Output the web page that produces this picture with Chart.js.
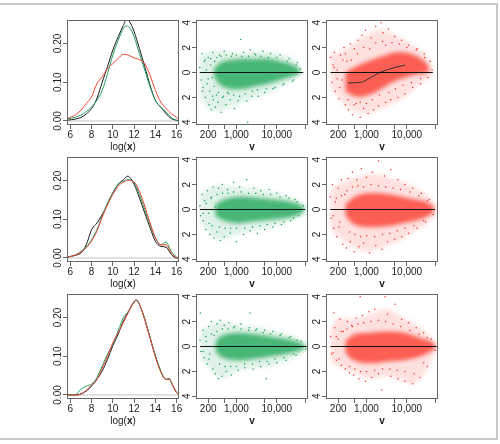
<!DOCTYPE html>
<html>
<head>
<meta charset="utf-8">
<script src="https://cdn.jsdelivr.net/npm/chart.js@4.4.1/dist/chart.umd.min.js"></script>
<style>
  html, body { margin: 0; padding: 0; background: #fff; }
  body { width: 500px; height: 444px; position: relative; overflow: hidden; }
  #frame { position: absolute; left: -6px; top: 3px; width: 504px; height: 437px;
           border: 2px solid #c8c8c8; box-sizing: border-box; }
  canvas { position: absolute; }
  canvas.soft { filter: blur(2px); }
</style>
</head>
<body>
<div id="frame"></div>
<script>
// --- tick values / labels ---
const densTicksX = [6, 8, 10, 12, 14, 16];
const densLabelsX = ["6", "8", "10", "12", "14", "16"];
const densTicksY = [0, 0.1, 0.2];
const densLabelsY = ["0.00", "0.10", "0.20"];
const vTicks = [200, 500, 1000, 5000, 10000, 50000];
const vLabels = ["200", "", "1,000", "", "10,000", ""];
const mTicksY = [-4, -2, 0, 2, 4];
const mLabelsY = ["4", "2", "0", "2", "4"];

// --- density curves, log(x) ---
const dens1X = [5.7, 6.5, 7, 7.5, 8, 8.5, 9, 9.5, 10, 10.5, 11, 11.3, 11.6, 12, 12.5, 13, 13.5, 14, 14.5, 15, 15.5, 16, 16.2];
const dens1Black = [0.002, 0.005, 0.009, 0.018, 0.032, 0.058, 0.1, 0.14, 0.183, 0.217, 0.247, 0.263, 0.255, 0.23, 0.187, 0.14, 0.092, 0.053, 0.036, 0.019, 0.006, 0.002, 0.001];
const dens1Green = [0.005, 0.01, 0.015, 0.024, 0.036, 0.053, 0.079, 0.122, 0.17, 0.208, 0.239, 0.245, 0.24, 0.217, 0.174, 0.131, 0.088, 0.053, 0.036, 0.023, 0.009, 0.001, 0];
const dens1Red = [0.006, 0.016, 0.028, 0.045, 0.062, 0.096, 0.114, 0.135, 0.148, 0.161, 0.172, 0.171, 0.168, 0.163, 0.158, 0.148, 0.118, 0.079, 0.049, 0.032, 0.019, 0.009, 0.005];

const dens2X = [5.7, 6.5, 7, 7.5, 8, 8.5, 9, 9.5, 10, 10.5, 11, 11.4, 12, 12.5, 13, 13.5, 14, 14.5, 15, 15.5, 16, 16.2];
const dens2Black = [0.002, 0.007, 0.013, 0.034, 0.073, 0.09, 0.112, 0.138, 0.168, 0.19, 0.202, 0.211, 0.19, 0.155, 0.116, 0.078, 0.043, 0.03, 0.028, 0.009, 0.0, 0.0];
const dens2Green = [0.002, 0.008, 0.017, 0.028, 0.047, 0.073, 0.108, 0.142, 0.168, 0.19, 0.198, 0.202, 0.194, 0.164, 0.125, 0.086, 0.052, 0.034, 0.041, 0.017, 0.002, 0];
const dens2Red = [0.002, 0.008, 0.015, 0.026, 0.043, 0.069, 0.105, 0.138, 0.164, 0.185, 0.196, 0.2, 0.196, 0.172, 0.134, 0.09, 0.053, 0.034, 0.034, 0.013, 0.001, 0];

const dens3X = [5.7, 6.5, 7, 7.5, 8, 8.5, 9, 9.5, 10, 10.5, 11, 11.5, 12, 12.2, 12.5, 13, 13.5, 14, 14.5, 15, 15.3, 15.5, 16, 16.2];
const dens3Black = [0, 0, 0.003, 0.01, 0.023, 0.04, 0.062, 0.092, 0.127, 0.157, 0.191, 0.217, 0.241, 0.245, 0.234, 0.196, 0.148, 0.101, 0.062, 0.04, 0.042, 0.032, 0.006, 0.002];
const dens3Green = [0, 0.001, 0.015, 0.023, 0.028, 0.045, 0.075, 0.105, 0.131, 0.165, 0.2, 0.217, 0.239, 0.244, 0.233, 0.196, 0.148, 0.101, 0.062, 0.04, 0.042, 0.032, 0.006, 0.002];
const dens3Red = [0, 0, 0.002, 0.012, 0.026, 0.04, 0.069, 0.1, 0.135, 0.161, 0.187, 0.215, 0.24, 0.243, 0.234, 0.193, 0.146, 0.098, 0.06, 0.04, 0.041, 0.032, 0.005, 0.001];

// --- scatter clouds: sparse envelope, dense core, loose points (v, y) ---
const gTopBandV = [124, 200, 320, 500, 1000, 2000, 4000, 8000, 15000, 25000, 38000];
const gTopOuterHi = [1.4, 1.6, 1.7, 1.7, 1.6, 1.6, 1.7, 1.6, 1.4, 1.1, 0.4];
const gTopOuterLo = [-1.8, -2.9, -3.1, -3.0, -2.6, -2.2, -1.8, -1.5, -1.0, -0.6, -0.2];
const gTopCoreV = [280, 400, 700, 1500, 3000, 6000, 12000, 25000, 38000];
const gTopCoreHi = [0.3, 0.8, 1.0, 1.1, 1.1, 1.1, 0.9, 0.6, 0.2];
const gTopCoreLo = [-0.3, -1.0, -1.3, -1.3, -1.1, -0.9, -0.6, -0.3, -0.1];
const gTopPts = [[124,0.4],[135,-0.6],[140,1.5],[150,-1.2],[160,0.9],[170,-2.0],[180,0.2],[190,-0.9],[200,1.2],[210,-2.6],[220,-1.5],[230,0.6],[240,-3.0],[250,-0.4],[260,1.6],[270,-2.2],[280,-1.1],[290,0.9],[300,-2.8],[320,-1.8],[350,-2.4],[380,1.4],[420,-3.2],[450,-2.0],[500,1.7],[550,-2.6],[600,-1.6],[700,-2.2],[800,1.5],[900,-2.9],[1270,2.65],[1200,-1.9],[1500,1.6],[1900,-4.0],[1800,-2.3],[2200,1.8],[2500,-1.5],[3000,1.4],[3500,-1.9],[4500,1.7],[5500,-1.3],[7000,1.5],[9000,-1.2],[12000,1.4],[15000,-0.9],[20000,1.1],[26000,-0.6],[32000,0.8],[38000,0.3],
  [330,1.2],[360,-1.6],[420,1.3],[480,-1.9],[560,1.4],[650,-1.7],[750,1.3],[850,-1.8],[1000,1.4],[1100,-2.3],[1350,1.3],[1650,-1.7],[2000,1.3],[2400,-1.9],[2800,1.5],[3300,-1.4],[4000,1.3],[5000,-1.6],[6200,1.2],[8000,-1.3],[10000,1.2],[14000,-1.0],[18000,0.9],[24000,-0.7],[30000,0.6],[260,-1.9],[230,1.1],[200,-0.5],[170,1.0],[145,-1.5]];
const gTopZero = [124, 45000];

const rTopBandV = [128, 200, 350, 600, 1000, 2000, 4000, 7000, 12000, 20000, 30000, 42000];
const rTopOuterHi = [1.5, 1.6, 2.0, 2.6, 3.0, 3.4, 3.2, 2.8, 2.3, 1.9, 1.4, 0.7];
const rTopOuterLo = [-1.2, -2.0, -2.8, -3.2, -3.3, -3.0, -2.6, -2.2, -1.6, -1.0, -0.6, -0.3];
const rTopCoreV = [300, 500, 900, 1600, 3000, 5000, 9000, 15000, 25000, 35000];
const rTopCoreHi = [0.0, 0.4, 0.8, 1.1, 1.4, 1.6, 1.6, 1.4, 1.0, 0.5];
const rTopCoreLo = [-1.5, -1.9, -1.9, -1.6, -1.1, -0.7, -0.4, -0.2, -0.1, 0.0];
const rTopPts = [[130,1.2],[140,-0.8],[150,0.6],[160,1.6],[170,-1.5],[190,0.2],[210,-2.1],[230,1.4],[250,-0.6],[280,2.0],[300,-2.6],[330,0.9],[360,-3.0],[400,2.3],[450,-3.4],[500,1.9],[560,-2.5],[620,2.6],[700,-3.6],[780,3.0],[850,-2.9],[950,3.4],[1100,-3.3],[1300,2.8],[1500,-3.0],[1700,3.7],[2000,-2.7],[2300,4.0],[2600,3.2],[3000,-2.4],[3500,3.5],[4000,-2.2],[5000,2.9],[6000,-2.0],[7500,2.6],[9000,-1.7],[11000,2.2],[14000,-1.2],[18000,1.9],[22000,-0.9],[27000,1.5],[33000,-0.4],[38000,0.9],[42000,0.2],
  [350,-2.2],[420,1.0],[500,-2.6],[600,1.5],[700,-2.4],[850,2.0],[1000,-2.5],[1200,1.9],[1400,-2.2],[1700,2.4],[2100,-1.8],[2500,2.5],[3000,2.2],[3600,-1.6],[4300,2.4],[5200,-1.3],[6500,2.3],[8000,-1.0],[10000,2.0],[13000,-0.8],[17000,1.8],[22000,-0.5],[28000,1.2],[260,1.0],[220,-1.2],[190,-0.5],[300,1.5],[160,0.4]];
const rTopZero = [129, 44000];
const rTopLoessV = [350, 700, 1240, 2000, 3900, 6800, 9000];
const rTopLoessY = [-0.84, -0.8, -0.43, -0.05, 0.3, 0.5, 0.6];

const gMidBandV = [125, 200, 320, 500, 1000, 2000, 4000, 8000, 15000, 30000, 50000];
const gMidOuterHi = [1.2, 1.6, 1.9, 1.9, 1.8, 1.7, 1.6, 1.4, 1.2, 0.8, 0.3];
const gMidOuterLo = [-1.0, -1.8, -2.4, -2.4, -2.0, -1.8, -1.6, -1.4, -1.1, -0.7, -0.3];
const gMidCoreV = [300, 500, 1000, 2000, 4000, 8000, 16000, 30000, 48000];
const gMidCoreHi = [0.4, 0.8, 1.0, 1.0, 0.9, 0.8, 0.7, 0.5, 0.2];
const gMidCoreLo = [-0.5, -0.9, -1.1, -1.0, -0.9, -0.8, -0.7, -0.5, -0.2];
const gMidPts = [[125,0.3],[130,-0.5],[140,1.2],[150,-0.9],[165,0.7],[175,-1.6],[190,1.5],[205,-0.3],[220,-2.0],[235,0.9],[250,-1.3],[265,1.8],[280,-2.3],[300,0.2],[330,-1.8],[360,1.7],[400,-2.5],[450,2.0],[500,-2.2],[600,1.6],[700,-1.9],[850,2.2],[1000,-2.6],[1200,1.8],[1500,-2.0],[1800,2.4],[2200,-1.7],[2700,1.7],[3300,-1.9],[4000,1.5],[5000,-1.6],[6500,1.6],[8000,-1.4],[10000,1.3],[13000,-1.2],[17000,1.1],[22000,-0.9],[28000,0.8],[35000,-0.5],[45000,0.3],
  [330,1.2],[380,-1.4],[450,1.3],[520,-1.5],[620,1.3],[720,-1.5],[850,1.4],[1000,-1.5],[1300,1.4],[1600,-1.5],[2000,1.3],[2500,-1.4],[3000,1.3],[3800,-1.3],[4600,1.2],[5800,-1.2],[7000,1.2],[9000,-1.1],[12000,1.0],[15000,-1.0],[20000,0.9],[26000,-0.7],[32000,0.6],[240,1.0],[210,-1.1],[180,0.5],[150,-0.3]];
const gMidZero = [125, 50000];

const rMidBandV = [128, 200, 350, 600, 1000, 2000, 4000, 8000, 15000, 30000, 50000];
const rMidOuterHi = [1.6, 2.0, 2.4, 2.6, 2.8, 2.8, 2.5, 2.2, 1.8, 1.2, 0.5];
const rMidOuterLo = [-1.4, -2.2, -2.8, -3.2, -3.4, -3.2, -2.8, -2.4, -1.8, -1.2, -0.5];
const rMidCoreV = [300, 500, 1000, 2000, 4000, 8000, 16000, 30000, 48000];
const rMidCoreHi = [0.4, 1.0, 1.3, 1.3, 1.2, 1.0, 0.8, 0.6, 0.2];
const rMidCoreLo = [-0.5, -1.2, -1.4, -1.4, -1.3, -1.1, -0.9, -0.6, -0.2];
const rMidPts = [[128,1.0],[135,-0.7],[145,2.0],[155,-1.5],[170,0.6],[185,-2.2],[200,1.7],[220,-1.0],[240,2.4],[260,-2.8],[290,1.2],[320,-3.1],[350,2.5],[400,-2.6],[450,3.0],[500,-3.4],[580,2.4],[650,-3.0],[750,3.3],[850,-2.7],[1000,2.6],[1200,-3.5],[1400,3.0],[1700,-2.9],[2000,3.9],[2400,-3.2],[2800,2.7],[3300,-2.6],[4000,3.2],[5000,-2.4],[6000,2.4],[7500,-2.2],[9000,2.0],[11000,-1.9],[14000,1.7],[18000,-1.5],[23000,1.3],[29000,-1.0],[36000,0.8],[45000,-0.4],
  [330,1.5],[380,-1.8],[450,1.8],[520,-2.0],[620,1.9],[720,-2.2],[850,1.8],[1000,-2.1],[1300,2.0],[1600,-2.2],[2000,1.9],[2500,-2.0],[3000,1.8],[3800,-1.9],[4600,1.7],[5800,-1.7],[7000,1.6],[9000,-1.5],[12000,1.4],[15000,-1.3],[20000,1.1],[26000,-0.9],[32000,0.7],[240,1.1],[210,-1.4],[180,0.9],[150,-0.5]];
const rMidZero = [128, 50000];

const gBotBandV = [130, 200, 320, 500, 1000, 2000, 4000, 8000, 16000, 30000, 52000];
const gBotOuterHi = [1.3, 1.6, 2.0, 1.9, 1.75, 1.6, 1.5, 1.3, 1.0, 0.7, 0.3];
const gBotOuterLo = [-1.0, -1.6, -2.3, -2.5, -2.0, -1.8, -1.7, -1.5, -1.2, -0.8, -0.3];
const gBotCoreV = [300, 400, 1000, 2600, 6700, 17000, 35000, 52000];
const gBotCoreHi = [0.3, 0.8, 1.1, 1.0, 0.8, 0.6, 0.35, 0.1];
const gBotCoreLo = [-0.3, -0.8, -1.1, -1.0, -0.8, -0.6, -0.35, -0.1];
const gBotPts = [[126,0.5],[132,-0.4],[128,2.7],[150,1.3],[160,-0.9],[175,0.8],[190,-1.4],[205,1.6],[220,-0.6],[240,2.0],[260,-1.8],[280,0.9],[300,-2.2],[330,1.8],[360,-2.6],[400,2.1],[440,-2.4],[500,1.7],[560,-2.0],[650,1.9],[750,-2.3],[900,1.6],[1100,-1.9],[1300,1.8],[2170,2.7],[1600,-1.7],[2100,1.5],[2600,-1.8],[3200,1.4],[4000,-1.6],[5500,-2.6],[5000,1.3],[6500,-1.4],[8000,1.2],[10000,-1.3],[13000,1.0],[17000,-1.1],[22000,0.8],[30000,-0.7],[40000,0.4],[52000,-0.2],
  [330,1.2],[380,-1.4],[450,1.4],[520,-1.6],[620,1.4],[720,-1.6],[850,1.5],[1000,-1.6],[1300,1.4],[1600,-1.4],[2000,1.3],[2500,-1.4],[3000,1.3],[3800,-1.2],[4600,1.1],[5800,-1.2],[7000,1.0],[9000,-1.0],[12000,0.9],[15000,-0.9],[20000,0.7],[26000,-0.6],[32000,0.5],[240,1.0],[210,-1.0],[180,0.4],[150,-0.4]];
const gBotZero = [126, 55000];

const rBotBandV = [130, 200, 480, 1240, 3200, 8200, 14000, 21000, 32000, 52000];
const rBotOuterHi = [1.5, 2.3, 2.2, 2.6, 3.0, 2.3, 1.9, 1.5, 1.0, 0.3];
const rBotOuterLo = [-1.2, -1.6, -2.1, -2.6, -2.4, -2.8, -3.0, -2.6, -1.8, -0.4];
const rBotCoreV = [300, 480, 1240, 3200, 8200, 21000, 40000, 52000];
const rBotCoreHi = [0.4, 0.95, 1.1, 1.2, 1.1, 0.7, 0.4, 0.1];
const rBotCoreLo = [-0.5, -1.1, -1.35, -1.2, -1.1, -0.8, -0.4, -0.1];
const rBotPts = [[130,0.8],[138,-0.6],[155,2.7],[165,1.5],[180,-1.1],[200,0.6],[220,2.2],[240,-1.5],[270,1.2],[300,-1.8],[340,2.0],[380,-2.1],[430,1.7],[480,-2.3],[560,2.3],[700,4.0],[650,-2.6],[800,2.5],[950,-2.8],[1150,2.8],[1350,-2.5],[1600,3.0],[2000,-2.2],[2400,-3.5],[2900,4.0],[3300,2.6],[4000,-2.4],[5100,3.4],[6000,-2.6],[7500,2.2],[9000,-2.8],[11000,1.9],[14000,-3.0],[17000,1.5],[21000,-2.5],[26000,1.1],[32000,-1.6],[40000,0.6],[50000,-0.3],
  [330,1.4],[380,-1.6],[450,1.6],[520,-1.8],[620,1.8],[720,-2.0],[850,1.9],[1000,-2.0],[1300,2.0],[1600,-1.9],[2000,2.1],[2500,-1.8],[3000,2.0],[3800,-1.8],[4600,1.8],[5800,-1.9],[7000,1.6],[9000,-2.0],[12000,1.3],[15000,-2.2],[20000,1.0],[26000,-1.3],[32000,0.7],[240,1.2],[210,-1.0],[180,0.8],[150,-0.5]];
const rBotZero = [129, 55000];

// --- layout of the 3x3 grid ---
const FONT = '"Liberation Sans", Arial, Helvetica, sans-serif';
const boxLeft = [67, 196, 326];
const boxTop = [20, 157, 294];
const boxW = 112, boxH = 105;
const AXW = 44, AXH = 36, PAD = 6;

const GREEN = { pt: "rgb(22,160,82)", core: "rgba(28,165,86,0.78)", outer: "rgba(40,170,95,0.15)", line: "#22a060" };
const RED = { pt: "rgb(248,48,36)", core: "rgba(250,52,38,0.76)", outer: "rgba(250,70,55,0.16)", line: "#ee4433" };

// draws the R-style box, rotated y labels and the axis title
const rFrame = {
  id: "rframe",
  afterDraw(chart, args, opts) {
    const { ctx, chartArea: a } = chart;
    const ys = chart.scales.y;
    ctx.save();
    ctx.strokeStyle = "#666";
    ctx.lineWidth = 1;
    ctx.strokeRect(a.left + 0.5, a.top + 0.5, a.right - a.left - 1, a.bottom - a.top - 1);

    ctx.fillStyle = "#222";
    ctx.font = "10px " + FONT;
    ctx.textAlign = "center";
    ctx.textBaseline = "middle";
    ys.ticks.forEach((t, i) => {
      ctx.save();
      ctx.translate(a.left - 8.5, ys.getPixelForValue(t.value));
      ctx.rotate(-Math.PI / 2);
      ctx.fillText(opts.yLabels[i], 0, 0);
      ctx.restore();
    });

    // title with mixed bold parts
    const parts = opts.title;
    let total = 0;
    parts.forEach(p => {
      ctx.font = (p[1] ? "bold " : "") + "10px " + FONT;
      total += ctx.measureText(p[0]).width;
    });
    let x = (a.left + a.right) / 2 - total / 2;
    const y = a.bottom + 22.5;
    ctx.textAlign = "left";
    parts.forEach(p => {
      ctx.font = (p[1] ? "bold " : "") + "10px " + FONT;
      ctx.fillText(p[0], x, y);
      x += ctx.measureText(p[0]).width;
    });
    ctx.restore();
  }
};
Chart.register(rFrame);

function xy(xs, ys) { return xs.map((x, i) => ({ x: x, y: ys[i] })); }
function pairs(list) { return list.map(p => ({ x: p[0], y: p[1] })); }

function xScale(type, min, max, ticks, labels, hidden) {
  return {
    type: type, min: min, max: max,
    afterBuildTicks: s => { s.ticks = ticks.map(v => ({ value: v })); },
    afterFit: s => { s.height = AXH; s.paddingLeft = 0; s.paddingRight = 0; },
    ticks: { autoSkip: false, maxRotation: 0, minRotation: 0, padding: 0,
             color: hidden ? "rgba(0,0,0,0)" : "#222",
             font: { size: 10, family: FONT }, callback: (v, i) => labels[i] },
    grid: { drawOnChartArea: false, drawTicks: true, tickLength: 4,
            color: hidden ? "rgba(0,0,0,0)" : "#666" },
    border: { display: false }
  };
}

function yScale(min, max, ticks, hidden) {
  return {
    type: "linear", min: min, max: max,
    afterBuildTicks: s => { s.ticks = ticks.map(v => ({ value: v })); },
    afterFit: s => { s.width = AXW; },
    ticks: { display: false },
    grid: { drawOnChartArea: false, drawTicks: true, tickLength: 4,
            color: hidden ? "rgba(0,0,0,0)" : "#666" },
    border: { display: false }
  };
}

function makeCanvas(row, col, cls) {
  const c = document.createElement("canvas");
  const w = boxW + AXW + PAD, h = boxH + AXH + PAD;
  c.width = w; c.height = h;
  c.style.left = (boxLeft[col] - AXW) + "px";
  c.style.top = (boxTop[row] - PAD) + "px";
  c.style.width = w + "px"; c.style.height = h + "px";
  if (cls) c.className = cls;
  document.body.appendChild(c);
  return c;
}

function baseOptions(scales, yLabels, title) {
  return {
    responsive: false, animation: false, devicePixelRatio: 1, events: [],
    layout: { padding: { top: PAD, right: PAD, left: 0, bottom: 0 } },
    scales: scales,
    plugins: { legend: { display: false }, tooltip: { enabled: false },
               rframe: title ? { yLabels: yLabels, title: title } : false }
  };
}

function densityChart(row, X, black, green, red) {
  const line = (d, col) => ({ data: xy(X, d), borderColor: col, borderWidth: 1, pointRadius: 0,
                              cubicInterpolationMode: "monotone", fill: false });
  new Chart(makeCanvas(row, 0), {
    type: "line",
    data: {
      datasets: [
        line(red, RED.line),
        line(green, GREEN.line),
        line(black, "#1a1a1a"),
        { data: xy([5.69, 16.22], [0, 0]), borderColor: "#c4c4c4", borderWidth: 1, pointRadius: 0 }
      ]
    },
    options: baseOptions({
      x: xScale("linear", 5.69, 16.22, densTicksX, densLabelsX),
      y: yScale(-0.0104, 0.2604, densTicksY)
    }, densLabelsY, [["log(", false], ["x", true], [")", false]])
  });
}

function scatterChart(row, col, pal, d) {
  const band = (xs, ys, fillCol) => ({ data: xy(xs, ys), borderWidth: 0, borderColor: "rgba(0,0,0,0)",
                                       pointRadius: 0, tension: 0.4, fill: fillCol ? "+1" : false,
                                       backgroundColor: fillCol || "rgba(0,0,0,0)" });
  // soft layer: the dense part of the cloud
  new Chart(makeCanvas(row, col, "soft"), {
    type: "line",
    data: { datasets: [
      band(d.coreV, d.coreHi, pal.core), band(d.coreV, d.coreLo, null),
      band(d.bandV, d.outerHi, pal.outer), band(d.bandV, d.outerLo, null)
    ] },
    options: baseOptions({
      x: xScale("logarithmic", 100, 59000, vTicks, vLabels, true),
      y: yScale(-4.22, 4.22, mTicksY, true)
    }, mLabelsY, null)
  });

  // sharp layer: loose points, zero line, axes
  const sets = [
    { data: xy(d.zero, [0, 0]), borderColor: "#111", borderWidth: 1.1, pointRadius: 0 }
  ];
  if (d.loessV) {
    sets.push({ data: xy(d.loessV, d.loessY), borderColor: "#333", borderWidth: 1, pointRadius: 0,
                cubicInterpolationMode: "monotone" });
  }
  sets.push({ data: pairs(d.pts), showLine: false, pointRadius: 0.75, pointBorderWidth: 0,
              pointBackgroundColor: pal.pt });
  new Chart(makeCanvas(row, col), {
    type: "line",
    data: { datasets: sets },
    options: baseOptions({
      x: xScale("logarithmic", 100, 59000, vTicks, vLabels),
      y: yScale(-4.22, 4.22, mTicksY)
    }, mLabelsY, [["v", true]])
  });
}

densityChart(0, dens1X, dens1Black, dens1Green, dens1Red);
densityChart(1, dens2X, dens2Black, dens2Green, dens2Red);
densityChart(2, dens3X, dens3Black, dens3Green, dens3Red);

scatterChart(0, 1, GREEN, { bandV: gTopBandV, outerHi: gTopOuterHi, outerLo: gTopOuterLo,
  coreV: gTopCoreV, coreHi: gTopCoreHi, coreLo: gTopCoreLo, pts: gTopPts, zero: gTopZero });
scatterChart(0, 2, RED, { bandV: rTopBandV, outerHi: rTopOuterHi, outerLo: rTopOuterLo,
  coreV: rTopCoreV, coreHi: rTopCoreHi, coreLo: rTopCoreLo, pts: rTopPts, zero: rTopZero,
  loessV: rTopLoessV, loessY: rTopLoessY });
scatterChart(1, 1, GREEN, { bandV: gMidBandV, outerHi: gMidOuterHi, outerLo: gMidOuterLo,
  coreV: gMidCoreV, coreHi: gMidCoreHi, coreLo: gMidCoreLo, pts: gMidPts, zero: gMidZero });
scatterChart(1, 2, RED, { bandV: rMidBandV, outerHi: rMidOuterHi, outerLo: rMidOuterLo,
  coreV: rMidCoreV, coreHi: rMidCoreHi, coreLo: rMidCoreLo, pts: rMidPts, zero: rMidZero });
scatterChart(2, 1, GREEN, { bandV: gBotBandV, outerHi: gBotOuterHi, outerLo: gBotOuterLo,
  coreV: gBotCoreV, coreHi: gBotCoreHi, coreLo: gBotCoreLo, pts: gBotPts, zero: gBotZero });
scatterChart(2, 2, RED, { bandV: rBotBandV, outerHi: rBotOuterHi, outerLo: rBotOuterLo,
  coreV: rBotCoreV, coreHi: rBotCoreHi, coreLo: rBotCoreLo, pts: rBotPts, zero: rBotZero });
</script>
</body>
</html>
